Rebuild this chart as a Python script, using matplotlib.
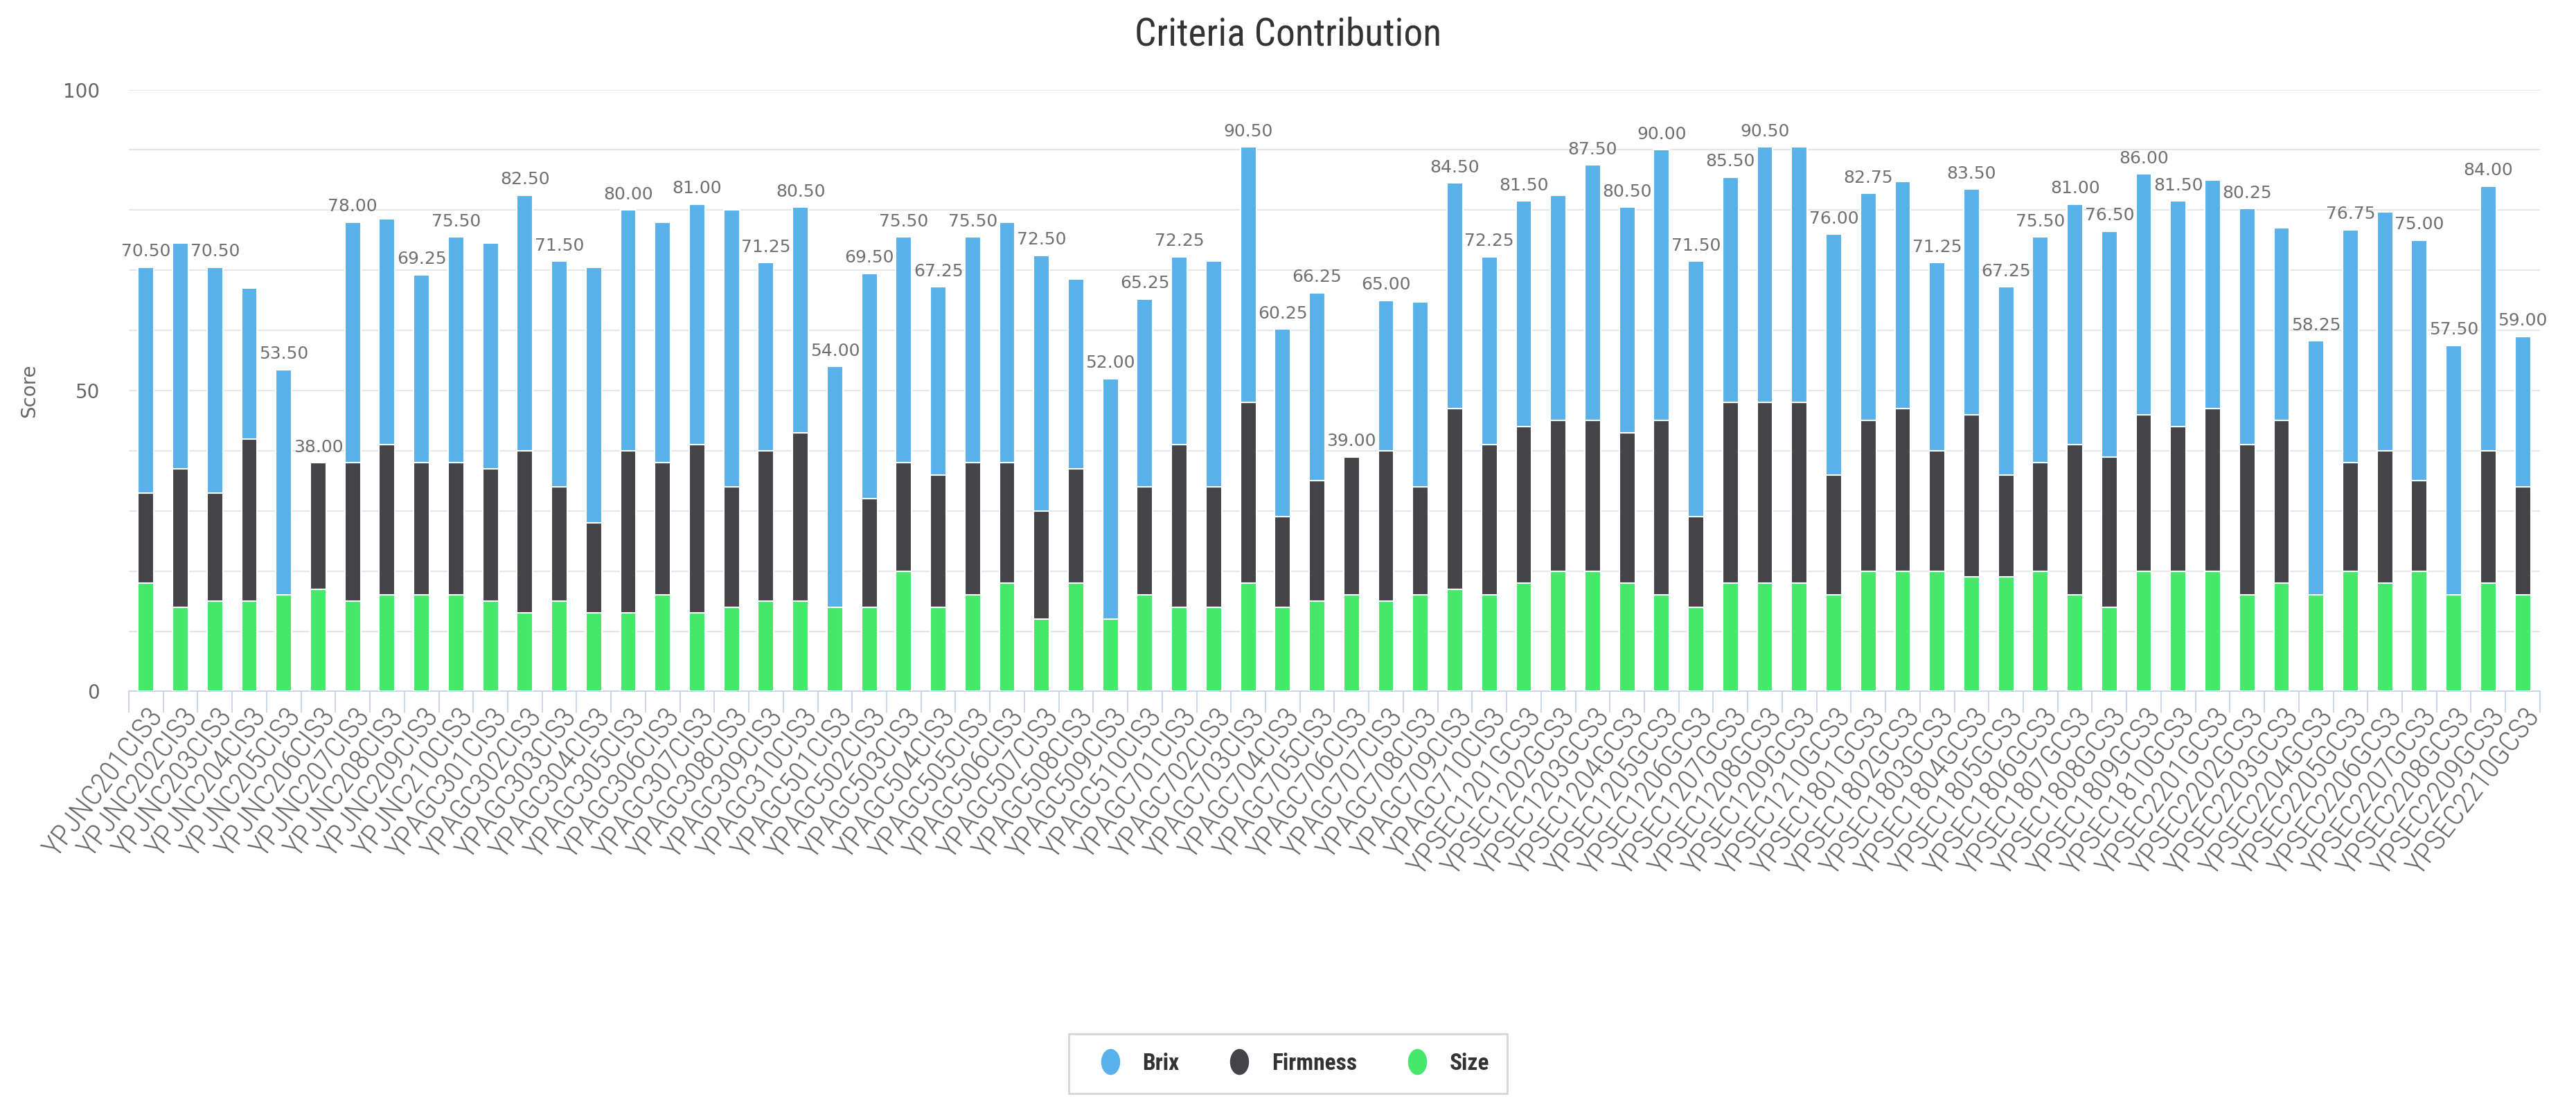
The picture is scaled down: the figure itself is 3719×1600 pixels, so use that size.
import numpy as np
import matplotlib
matplotlib.use("Agg")
import matplotlib.pyplot as plt
from matplotlib.lines import Line2D
from matplotlib.path import Path
from matplotlib.transforms import Affine2D

samples = [
    "YPJNC201CIS3", "YPJNC202CIS3", "YPJNC203CIS3", "YPJNC204CIS3", "YPJNC205CIS3",
    "YPJNC206CIS3", "YPJNC207CIS3", "YPJNC208CIS3", "YPJNC209CIS3", "YPJNC210CIS3",
    "YPAGC301CIS3", "YPAGC302CIS3", "YPAGC303CIS3", "YPAGC304CIS3", "YPAGC305CIS3",
    "YPAGC306CIS3", "YPAGC307CIS3", "YPAGC308CIS3", "YPAGC309CIS3", "YPAGC310CIS3",
    "YPAGC501CIS3", "YPAGC502CIS3", "YPAGC503CIS3", "YPAGC504CIS3", "YPAGC505CIS3",
    "YPAGC506CIS3", "YPAGC507CIS3", "YPAGC508CIS3", "YPAGC509CIS3", "YPAGC510CIS3",
    "YPAGC701CIS3", "YPAGC702CIS3", "YPAGC703CIS3", "YPAGC704CIS3", "YPAGC705CIS3",
    "YPAGC706CIS3", "YPAGC707CIS3", "YPAGC708CIS3", "YPAGC709CIS3", "YPAGC710CIS3",
    "YPSEC1201GCS3", "YPSEC1202GCS3", "YPSEC1203GCS3", "YPSEC1204GCS3", "YPSEC1205GCS3",
    "YPSEC1206GCS3", "YPSEC1207GCS3", "YPSEC1208GCS3", "YPSEC1209GCS3", "YPSEC1210GCS3",
    "YPSEC1801GCS3", "YPSEC1802GCS3", "YPSEC1803GCS3", "YPSEC1804GCS3", "YPSEC1805GCS3",
    "YPSEC1806GCS3", "YPSEC1807GCS3", "YPSEC1808GCS3", "YPSEC1809GCS3", "YPSEC1810GCS3",
    "YPSEC2201GCS3", "YPSEC2202GCS3", "YPSEC2203GCS3", "YPSEC2204GCS3", "YPSEC2205GCS3",
    "YPSEC2206GCS3", "YPSEC2207GCS3", "YPSEC2208GCS3", "YPSEC2209GCS3", "YPSEC2210GCS3",
]

size = [18, 14, 15, 15, 16, 17, 15, 16, 16, 16,
        15, 13, 15, 13, 13, 16, 13, 14, 15, 15,
        14, 14, 20, 14, 16, 18, 12, 18, 12, 16,
        14, 14, 18, 14, 15, 16, 15, 16, 17, 16,
        18, 20, 20, 18, 16, 14, 18, 18, 18, 16,
        20, 20, 20, 19, 19, 20, 16, 14, 20, 20,
        20, 16, 18, 16, 20, 18, 20, 16, 18, 16]

firmness = [15, 23, 18, 27, 0, 21, 23, 25, 22, 22,
            22, 27, 19, 15, 27, 22, 28, 20, 25, 28,
            0, 18, 18, 22, 22, 20, 18, 19, 0, 18,
            27, 20, 30, 15, 20, 23, 25, 18, 30, 25,
            26, 25, 25, 25, 29, 15, 30, 30, 30, 20,
            25, 27, 20, 27, 17, 18, 25, 25, 26, 24,
            27, 25, 27, 0, 18, 22, 15, 0, 22, 18]

brix = [37.5, 37.5, 37.5, 25, 37.5, 0, 40, 37.5, 31.25, 37.5,
        37.5, 42.5, 37.5, 42.5, 40, 40, 40, 46, 31.25, 37.5,
        40, 37.5, 37.5, 31.25, 37.5, 40, 42.5, 31.5, 40, 31.25,
        31.25, 37.5, 42.5, 31.25, 31.25, 0, 25, 30.75, 37.5, 31.25,
        37.5, 37.5, 42.5, 37.5, 45, 42.5, 37.5, 42.5, 42.5, 40,
        37.75, 37.75, 31.25, 37.5, 31.25, 37.5, 40, 37.5, 40, 37.5,
        38, 39.25, 32, 42.25, 38.75, 39.75, 40, 41.5, 44, 25]

# bars whose total label is visible (the others are hidden by overlap)
labelled = [1, 3, 5, 6, 7, 9, 10, 12, 13, 15, 17, 19, 20, 21, 22, 23, 24, 25, 27,
            29, 30, 31, 33, 34, 35, 36, 37, 39, 40, 41, 43, 44, 45, 46, 47, 48, 50,
            51, 53, 54, 55, 56, 57, 58, 59, 60, 62, 64, 65, 67, 68, 69, 70]

col_brix = '#58b1ea'
col_firm = '#434348'
col_size = '#44e86b'
narrow = ['Roboto Condensed', 'Archivo Narrow', 'DejaVu Sans']

size = np.array(size, dtype=float)
firmness = np.array(firmness, dtype=float)
brix = np.array(brix, dtype=float)
total = size + firmness + brix
x = np.arange(len(samples))

fig = plt.figure(figsize=(37.19, 16), dpi=100)
ax = fig.add_axes([0.05, 0.376, 0.936, 0.543])

w = 0.46
ax.bar(x, size, w, color=col_size, edgecolor='white', linewidth=1.5, zorder=3)
ax.bar(x, firmness, w, bottom=size, color=col_firm, edgecolor='white', linewidth=1.5, zorder=3)
ax.bar(x, brix, w, bottom=size + firmness, color=col_brix, edgecolor='white', linewidth=1.5, zorder=3)

for i in labelled:
    ax.text(x[i - 1], total[i - 1] + 1.2, '%.2f' % total[i - 1], ha='center', va='bottom',
            fontsize=18, color='#707070', zorder=4)

ax.set_xlim(-0.5, len(samples) - 0.5)
ax.set_ylim(0, 100)

ax.set_yticks([0, 50, 100])
ax.set_yticks(np.arange(0, 101, 10), minor=True)
ax.yaxis.grid(True, which='both', color='#e6e6e6', linewidth=1.5, zorder=0)
ax.tick_params(axis='y', which='both', length=0, labelsize=20, labelcolor='#666666', pad=30)
ax.set_ylabel('Score', fontsize=20, color='#666666', labelpad=25)

ax.set_xticks(x)
ax.set_xticklabels(samples, rotation=53, ha='right', rotation_mode='anchor',
                   fontsize=31, color='#666666', family=narrow, fontweight='light')
ax.set_xticks(np.arange(-0.5, len(samples), 1), minor=True)
ax.tick_params(axis='x', which='major', length=0, pad=12)
ax.tick_params(axis='x', which='minor', length=22, color='#ccd6eb', width=1.5)

for s in ['top', 'right', 'left']:
    ax.spines[s].set_visible(False)
ax.spines['bottom'].set_color('#ccd6eb')
ax.spines['bottom'].set_linewidth(1.5)

fig.text(0.5, 0.985, 'Criteria Contribution', ha='center', va='top', fontsize=40,
         color='#333333', family=narrow)

# legend dots look like upright ovals in the reference
oval = Path.unit_circle().transformed(Affine2D().scale(0.72, 1.0))
handles = [Line2D([], [], marker=oval, linestyle='none', markersize=26, color=c)
           for c in [col_brix, col_firm, col_size]]
leg = fig.legend(handles, ['Brix', 'Firmness', 'Size'], loc='center', ncol=3,
                 bbox_to_anchor=(0.5, 0.04), frameon=True, fancybox=False,
                 prop={'family': narrow, 'size': 24, 'weight': 'bold'},
                 handletextpad=0.4, columnspacing=1.6, borderpad=0.8)
leg.get_frame().set_edgecolor('#cccccc')
leg.get_frame().set_linewidth(2)
for t in leg.get_texts():
    t.set_color('#333333')

fig.savefig('out.png', dpi=100, facecolor='white')
